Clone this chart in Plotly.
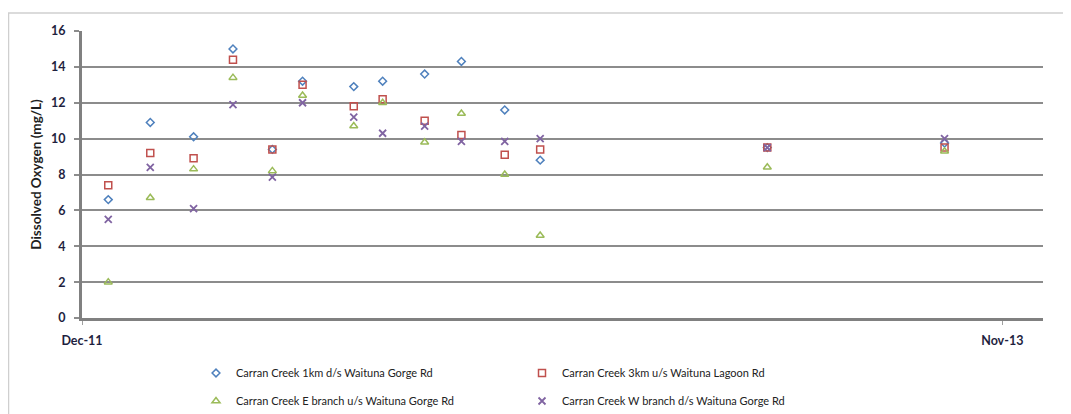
import plotly.graph_objects as go

dates = ["2011-12-21", "2012-01-22", "2012-02-24", "2012-03-25", "2012-04-24",
         "2012-05-17", "2012-06-25", "2012-07-17", "2012-08-18", "2012-09-15",
         "2012-10-18", "2012-11-14", "2013-05-06", "2013-09-18"]

do_1km = [6.6, 10.9, 10.1, 15.0, 9.4, 13.2, 12.9, 13.2, 13.6, 14.3, 11.6, 8.8, 9.5, 9.75]
do_3km = [7.4, 9.2, 8.9, 14.4, 9.4, 13.0, 11.8, 12.2, 11.0, 10.2, 9.1, 9.4, 9.5, 9.5]
do_east = [2.0, 6.7, 8.3, 13.4, 8.2, 12.4, 10.7, 12.0, 9.8, 11.4, 8.0, 4.6, 8.4, 9.3]
do_west = [5.5, 8.4, 6.1, 11.9, 7.85, 12.0, 11.2, 10.3, 10.7, 9.85, 9.85, 10.0, 9.5, 10.0]

names = ["Carran Creek 1km d/s Waituna Gorge Rd",
         "Carran Creek 3km u/s Waituna Lagoon Rd",
         "Carran Creek E branch u/s Waituna Gorge Rd",
         "Carran Creek W branch d/s Waituna Gorge Rd"]

y_ticks = [0, 2, 4, 6, 8, 10, 12, 14, 16]
x_tickvals = ["2011-12-01", "2013-11-01"]
x_ticktext = ["Dec-11", "Nov-13"]

fig = go.Figure()
fig.add_trace(go.Scatter(x=dates, y=do_1km, mode="markers", name=names[0], legend="legend",
                         marker=dict(symbol="diamond-open", size=6, color="#4f81bd", line=dict(width=1.5))))
fig.add_trace(go.Scatter(x=dates, y=do_3km, mode="markers", name=names[1], legend="legend",
                         marker=dict(symbol="square-open", size=7, color="#c0504d", line=dict(width=1.5))))
fig.add_trace(go.Scatter(x=dates, y=do_east, mode="markers", name=names[2], legend="legend2",
                         marker=dict(symbol="triangle-up-open", size=7, color="#9bbb59", line=dict(width=1.5))))
fig.add_trace(go.Scatter(x=dates, y=do_west, mode="markers", name=names[3], legend="legend2",
                         marker=dict(symbol="x-thin-open", size=7, color="#8064a2", line=dict(width=1.8))))

# page has an 8px body margin; work in page pixels and convert
OFF = 8
W, H = 1071 - OFF, 414 - OFF
L, R, T, B = 82 - OFF, 28, 31 - OFF, 96
pw = W - L - R
ph = H - T - B

def px_x(p):
    return (p - OFF - L) / pw

def px_y(p):
    return (H - B - (p - OFF)) / ph

legend_common = dict(orientation="h", xanchor="left", yanchor="middle",
                     font=dict(family="Lato", size=11, color="#222222"),
                     entrywidth=281, entrywidthmode="pixels",
                     bgcolor="rgba(0,0,0,0)", borderwidth=0, itemwidth=30)

fig.update_layout(
    width=W, height=H,
    margin=dict(l=L, r=R, t=T, b=B, autoexpand=False),
    paper_bgcolor="white", plot_bgcolor="white",
    showlegend=True,
    legend=dict(x=px_x(196), y=px_y(373), **legend_common),
    legend2=dict(x=px_x(196), y=px_y(401), **legend_common),
    xaxis=dict(type="date", range=["2011-12-01", "2013-12-02"],
               tickvals=x_tickvals, ticktext=x_ticktext,
               showgrid=False, zeroline=False,
               showline=True, linecolor="#808080", linewidth=3,
               ticks="outside", ticklen=4, tickcolor="#a0a0a0", tickwidth=1,
               tickfont=dict(family="Lato", size=12.5, color="#1f1f3f", weight="bold"),
               ticklabelstandoff=5),
    yaxis=dict(range=[0, 16], tickvals=y_ticks,
               showgrid=True, gridcolor="#8c8c8c", gridwidth=1.6,
               zeroline=False,
               showline=True, linecolor="#808080", linewidth=3,
               ticks="outside", ticklen=5, tickcolor="#8c8c8c", tickwidth=1.5,
               tickfont=dict(family="Lato", size=12.5, color="#1f1f3f", weight="bold"),
               ticklabelstandoff=6,
               title=dict(text="Dissolved Oxygen (mg/L)",
                          font=dict(family="Lato", size=13.5, color="#1f1f1f", weight="bold"),
                          standoff=7)),
    shapes=[dict(type="rect", xref="paper", yref="paper",
                 x0=px_x(8.5), x1=px_x(1090), y0=px_y(430), y1=px_y(13),
                 line=dict(color="#cfcfcf", width=1.5), fillcolor="rgba(0,0,0,0)", layer="below")],
)

fig.write_html("out.html")
